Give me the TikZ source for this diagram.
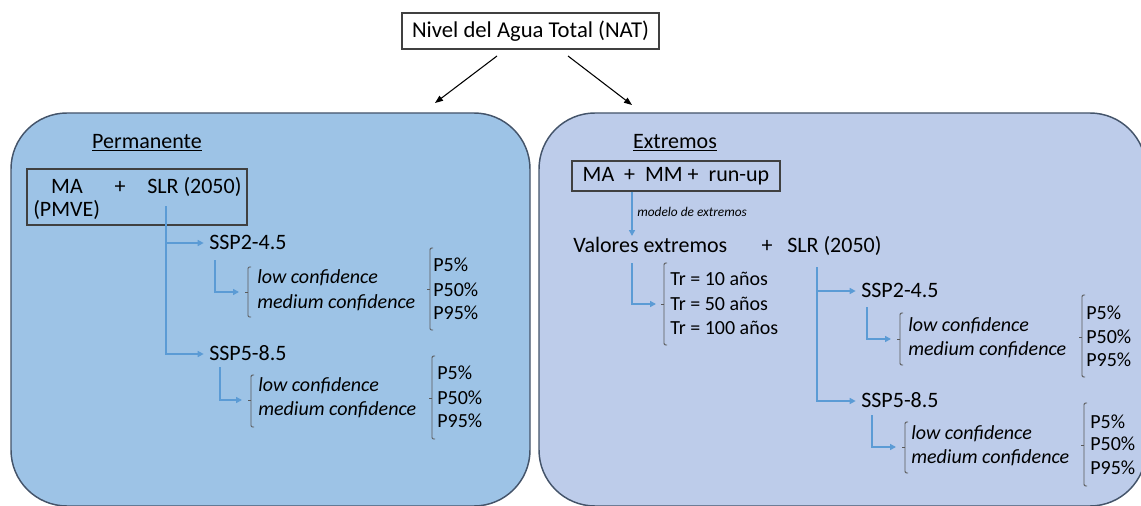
\documentclass[tikz,border=0pt]{standalone}
\usepackage{fontspec}
\setmainfont{Carlito}
\usepackage{tikz}
\usetikzlibrary{arrows.meta}

\definecolor{panelA}{RGB}{157,195,230}
\definecolor{panelB}{RGB}{189,204,234}
\definecolor{edge}{RGB}{68,84,106}
\definecolor{lineblue}{RGB}{91,155,213}
\definecolor{brkgray}{RGB}{89,89,89}

\begin{document}
\begin{tikzpicture}[x=0.75pt,y=-0.75pt,
  big/.style={inner sep=0pt,font=\fontsize{16.5}{19}\selectfont,text height=2.2ex,text depth=0.2ex},
  small/.style={inner sep=0pt,font=\fontsize{15}{18}\selectfont,text height=2.2ex,text depth=0.2ex},
  conf/.style={small,font=\fontsize{15}{18}\selectfont\itshape},
  panel/.style={draw=edge,line width=1.1pt,rounded corners=42pt},
  frame/.style={draw=black!75,line width=0.8pt},
  bluearr/.style={draw=lineblue,line width=1.1pt,-{Triangle[length=4.5pt,width=4.5pt]}},
  brk/.style={draw=brkgray,line width=0.7pt,rounded corners=1pt}]
\useasboundingbox (0,0) rectangle (1141,506);

% the two panels
\draw[panel,fill=panelA] (11,113) rectangle (530,506);
\draw[panel,fill=panelB] (539,113) rectangle (1146,506);

% top box and its two arrows
\node[frame,minimum width=257*0.75pt,minimum height=36*0.75pt,inner sep=0pt,
  font=\fontsize{17}{20}\selectfont] (nat) at (530.5,31) {Nivel del Agua Total (NAT)};
\coordinate (natL) at (497,56);
\coordinate (natR) at (568,56);
\coordinate (toPerm) at (435,103);
\coordinate (toExt) at (632,105);
\draw[line width=0.8pt,-{Triangle[length=6pt,width=4.5pt]}] (natL) -- (toPerm);
\draw[line width=0.8pt,-{Triangle[length=6pt,width=4.5pt]}] (natR) -- (toExt);

%% Permanente
\node[big] (perm) at (147,142) {\underline{Permanente}};
\node[frame,minimum width=220*0.75pt,minimum height=56*0.75pt,inner sep=0pt] (mabox) at (137,197) {};
\node[big] (ma) at (67,187) {MA};
\node[big] (plusA) at (120,187) {+};
\node[big,anchor=west] (slrA) at (147,187) {SLR (2050)};
\node[big,anchor=west] (pmve) at (33,210) {(PMVE)};

\node[big,anchor=west] (sspA) at (209,243) {SSP2-4.5};
\node[big,anchor=west] (sspB) at (209,354) {SSP5-8.5};
\coordinate (trunkA) at (166,206);
\draw[bluearr] (trunkA) |- ([xshift=-4pt]sspA.west);
\draw[bluearr] (trunkA) |- ([xshift=-4pt]sspB.west);

% SSP2-4.5 branch
\node[conf,anchor=west] (lowA) at (257,277) {low confidence};
\node[conf,anchor=west] (medA) at (257,302) {medium confidence};
\draw[brk] (251,267) -- (248,267) -- (248,317) -- (251,317);
\draw[brk] (248,292) -- (245,292);
\coordinate (tipA) at (239,292);
\draw[bluearr] (215,260) |- (tipA);
\draw[brk] (433,248) -- (430,248) -- (430,330) -- (433,330);
\draw[brk] (430,289) -- (427,289);
\node[small,anchor=west] (pA1) at (433,265) {P5\%};
\node[small,anchor=west] (pA2) at (433,290) {P50\%};
\node[small,anchor=west] (pA3) at (433,313) {P95\%};

% SSP5-8.5 branch
\node[conf,anchor=west] (lowB) at (258,385) {low confidence};
\node[conf,anchor=west] (medB) at (258,409) {medium confidence};
\draw[brk] (254,375) -- (251,375) -- (251,427) -- (254,427);
\draw[brk] (251,400) -- (248,400);
\coordinate (tipB) at (242,400);
\draw[bluearr] (220,367) |- (tipB);
\draw[brk] (435,356) -- (432,356) -- (432,439) -- (435,439);
\draw[brk] (432,398) -- (429,398);
\node[small,anchor=west] (pB1) at (437,373) {P5\%};
\node[small,anchor=west] (pB2) at (437,398) {P50\%};
\node[small,anchor=west] (pB3) at (437,421) {P95\%};

%% Extremos
\node[big] (ext) at (675,142) {\underline{Extremos}};
\node[frame,minimum width=208*0.75pt,minimum height=30*0.75pt,inner sep=0pt,
  font=\fontsize{16.5}{19}\selectfont] (mmbox) at (676,176) {MA \ + \ MM + \ run-up};
\node[big,anchor=west] (valext) at (573,246) {Valores extremos};
\node[big] (plusB) at (767,246) {+};
\node[big,anchor=west] (slrB) at (787,246) {SLR (2050)};
\draw[bluearr] (mmbox.south -| 632,0) -- (632,236);
\node[inner sep=0pt,anchor=west,font=\fontsize{10}{12}\selectfont\itshape] (modelo) at (637,212) {modelo de extremos};

% return periods
\coordinate (tipTr) at (656,304);
\draw[bluearr] (632,263) |- (tipTr);
\draw[brk] (667,263) -- (664,263) -- (664,345) -- (667,345);
\draw[brk] (664,304) -- (661,304);
\node[small,anchor=west] (tr1) at (670,279) {Tr = 10 años};
\node[small,anchor=west] (tr2) at (670,304) {Tr = 50 años};
\node[small,anchor=west] (tr3) at (670,328) {Tr = 100 años};

\node[big,anchor=west] (sspC) at (861,291) {SSP2-4.5};
\node[big,anchor=west] (sspD) at (861,401) {SSP5-8.5};
\coordinate (trunkB) at (817,267);
\draw[bluearr] (trunkB) |- ([xshift=-4pt]sspC.west);
\draw[bluearr] (trunkB) |- ([xshift=-4pt]sspD.west);

% SSP2-4.5 branch
\node[conf,anchor=west] (lowC) at (908,325) {low confidence};
\node[conf,anchor=west] (medC) at (908,349) {medium confidence};
\draw[brk] (903,313) -- (900,313) -- (900,365) -- (903,365);
\draw[brk] (900,339) -- (897,339);
\coordinate (tipC) at (891,339);
\draw[bluearr] (867,307) |- (tipC);
\draw[brk] (1085,295) -- (1082,295) -- (1082,377) -- (1085,377);
\draw[brk] (1082,337) -- (1079,337);
\node[small,anchor=west] (pC1) at (1086,313) {P5\%};
\node[small,anchor=west] (pC2) at (1086,337) {P50\%};
\node[small,anchor=west] (pC3) at (1086,360) {P95\%};

% SSP5-8.5 branch
\node[conf,anchor=west] (lowD) at (911,433) {low confidence};
\node[conf,anchor=west] (medD) at (911,457) {medium confidence};
\draw[brk] (908,422) -- (905,422) -- (905,473) -- (908,473);
\draw[brk] (905,447) -- (902,447);
\coordinate (tipD) at (896,447);
\draw[bluearr] (872,415) |- (tipD);
\draw[brk] (1087,403) -- (1084,403) -- (1084,486) -- (1087,486);
\draw[brk] (1084,445) -- (1081,445);
\node[small,anchor=west] (pD1) at (1090,422) {P5\%};
\node[small,anchor=west] (pD2) at (1090,444) {P50\%};
\node[small,anchor=west] (pD3) at (1090,468) {P95\%};
\end{tikzpicture}
\end{document}
